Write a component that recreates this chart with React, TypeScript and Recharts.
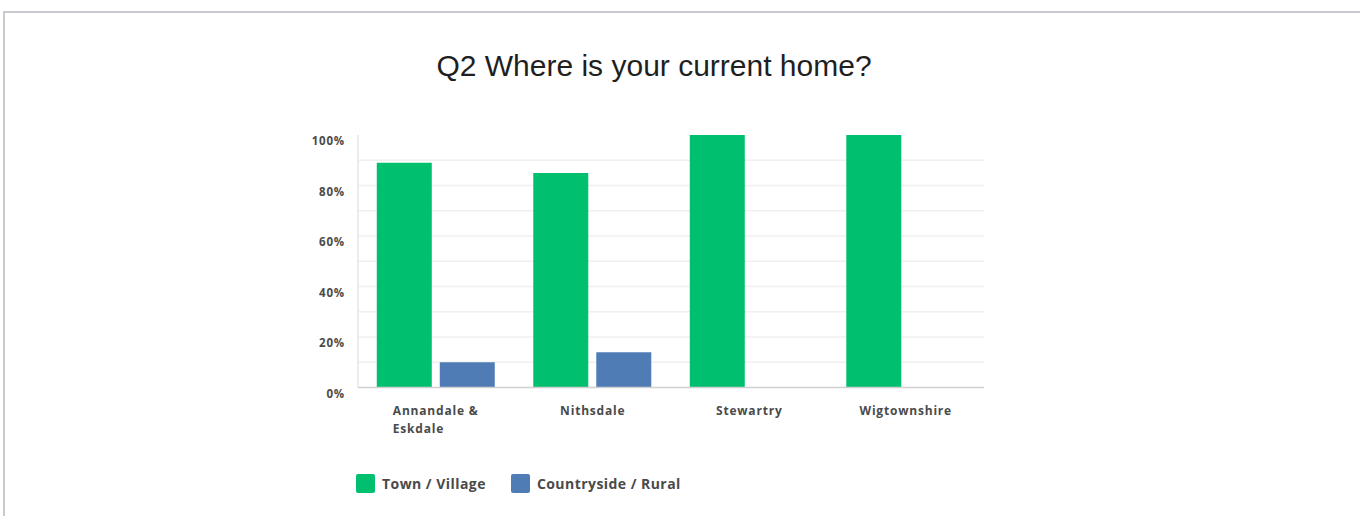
import { BarChart, Bar, XAxis, YAxis, CartesianGrid } from 'recharts';

const categories = ["Annandale &\nEskdale", "Nithsdale", "Stewartry", "Wigtownshire"];
const townVillage = [89, 85, 100, 100];
const countrysideRural = [10, 14, 0, 0];
const yTicks = [0, 10, 20, 30, 40, 50, 60, 70, 80, 90, 100];
const gridValues = [10, 20, 30, 40, 50, 60, 70, 80, 90];

const seriesNames = ["Town / Village", "Countryside / Rural"];
const seriesColors = ["#00bf6f", "#507cb6"];

const data = categories.map((name, i) => ({
  name,
  town: townVillage[i],
  rural: countrysideRural[i],
}));

const labelFont = "'Open Sans', sans-serif";

// y labels only every 20%, grid every 10%
const YTick = ({ x, y, payload }: any) => {
  if (payload.value % 20 !== 0) return null;
  return (
    <text x={x - 5} y={y} dy={10} textAnchor="end" fontFamily={labelFont} fontWeight={700} fontSize={11.5} letterSpacing={0.8} fill="#4a4a4a">
      {payload.value}%
    </text>
  );
};

const XTick = ({ x, y, payload }: any) => {
  const lines = String(payload.value).split("\n");
  const longest = Math.max(...lines.map((l) => l.length));
  // multi-line labels are left aligned in a centred block
  const multi = lines.length > 1;
  const startX = multi ? x - (longest * 7.9) / 2 : x;
  return (
    <text
      x={startX}
      y={y}
      textAnchor={multi ? "start" : "middle"}
      fontFamily={labelFont}
      fontWeight={700}
      fontSize={12}
      letterSpacing={0.8}
      fill="#4a4a4a"
    >
      {lines.map((l, i) => (
        <tspan key={i} x={startX} dy={i === 0 ? 19 : 18}>
          {l}
        </tspan>
      ))}
    </text>
  );
};

export default function App() {
  return (
    <div style={{ position: 'absolute', left: 0, top: 0, width: 1360, height: 516, overflow: 'hidden', background: '#fff' }}>
      <div
        style={{
          position: 'absolute',
          left: 3,
          top: 11,
          width: 1420,
          height: 600,
          border: '2px solid #c9c9d0',
        }}
      />
      <div
        style={{
          position: 'absolute',
          left: 0,
          top: 49,
          width: 1308,
          textAlign: 'center',
          fontFamily: "'Liberation Sans', Arial, sans-serif",
          fontSize: 30,
          color: '#1f1f1f',
        }}
      >
        Q2 Where is your current home?
      </div>
      <div style={{ position: 'absolute', left: 0, top: 0 }}>
        <BarChart
          width={1360}
          height={516}
          data={data}
          margin={{ top: 135, right: 376, left: 308, bottom: 88.5 }}
          barCategoryGap="12%"
          barGap={8}
        >
          <CartesianGrid vertical={false} horizontalValues={gridValues} stroke="#f0f0f0" strokeWidth={1.5} />
          <XAxis
            dataKey="name"
            height={40}
            tickLine={false}
            axisLine={{ stroke: '#d0d0d0', strokeWidth: 1.5 }}
            tick={<XTick />}
            interval={0}
          />
          <YAxis
            width={50}
            domain={[0, 100]}
            ticks={yTicks}
            tickLine={false}
            axisLine={{ stroke: '#e6e6e6', strokeWidth: 1.5 }}
            tick={<YTick />}
            interval={0}
          />
          <Bar dataKey="town" name={seriesNames[0]} fill={seriesColors[0]} isAnimationActive={false} />
          <Bar dataKey="rural" name={seriesNames[1]} fill={seriesColors[1]} isAnimationActive={false} />
        </BarChart>
      </div>
      <div
        style={{
          position: 'absolute',
          left: 356,
          top: 473,
          display: 'flex',
          alignItems: 'center',
          fontFamily: labelFont,
          fontWeight: 700,
          fontSize: 14,
          letterSpacing: 0.45,
          color: '#4a4a4a',
        }}
      >
        {seriesNames.map((n, i) => (
          <div key={n} style={{ display: 'flex', alignItems: 'center', marginRight: 25, height: 20 }}>
            <span style={{ display: 'inline-block', width: 19, height: 19, borderRadius: 2, background: seriesColors[i], marginRight: 7 }} />
            <span>{n}</span>
          </div>
        ))}
      </div>
    </div>
  );
}
